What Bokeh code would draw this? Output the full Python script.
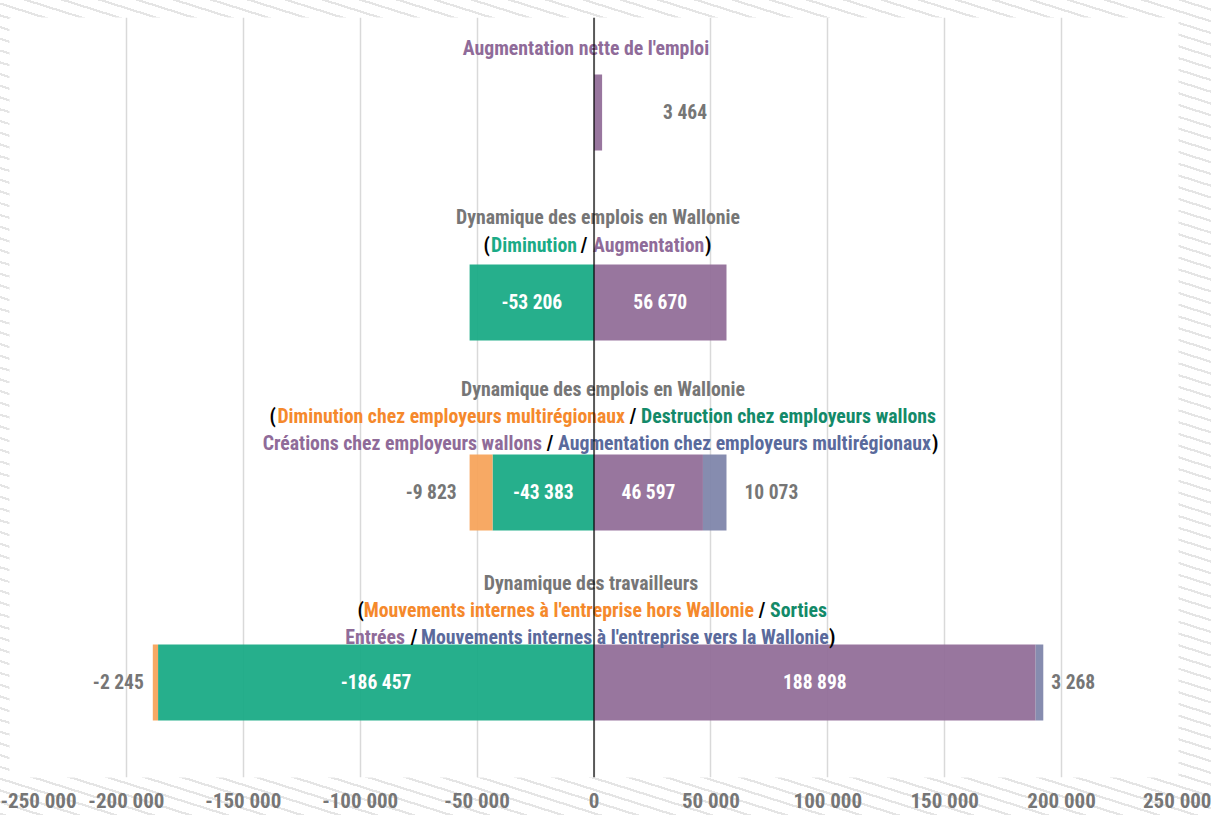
from bokeh.plotting import figure
from bokeh.models import Range1d, FixedTicker, Span, ColumnDataSource
from bokeh.core.properties import value
from bokeh.embed import file_html
from bokeh.resources import INLINE

# ---------------- data ----------------
rows = ["Augmentation nette de l'emploi",
        "Dynamique des emplois en Wallonie",
        "Dynamique des emplois en Wallonie (détail)",
        "Dynamique des travailleurs"]
neg_inner = [0, -53206, -43383, -186457]      # green
neg_outer = [0, 0, -9823, -2245]              # orange
pos_inner = [3464, 56670, 46597, 188898]      # purple
pos_outer = [0, 0, 10073, 3268]               # blue
tick_values = [-250000, -200000, -150000, -100000, -50000, 0,
               50000, 100000, 150000, 200000, 250000]
tick_labels = ["-250 000", "-200 000", "-150 000", "-100 000", "-50 000", "0",
               "50 000", "100 000", "150 000", "200 000", "250 000"]

FONT = "Roboto Condensed"
GRAY = "#767676"
C_GREEN = "#1aab86"
C_ORANGE = "#f7a45c"
C_PURPLE = "#926f99"
C_BLUE = "#7f86ab"
T_PURPLE = "#8f6b99"
T_ORANGE = "#f5892c"
T_GREEN = "#1aab86"
T_DGREEN = "#138a69"
T_BLUE = "#5a6a9c"

W, Hh = 1211, 815
FL, FT, FR, FB = 9, 17, 1178, 778   # frame edges on the canvas


def fmt(v):
    s = f"{abs(v):,}".replace(",", " ")
    return ("-" if v < 0 else "") + s


n = len(rows)
yc = [i + 0.5 for i in range(n)]

p = figure(width=W, height=Hh, output_backend="svg", toolbar_location=None,
           x_range=Range1d(-250000, 250000), y_range=Range1d(n, 0),
           y_axis_location=None, min_border_left=FL, min_border_right=W - FR,
           min_border_top=FT, min_border_bottom=Hh - FB)
p.outline_line_color = None
p.background_fill_color = "white"
p.border_fill_color = None
# striped page background visible around the plot area
p.styles = {"background-color": "#ffffff",
            "background-image": "repeating-linear-gradient(17.5deg, #e5e5e5 0px, #e5e5e5 2.2px, "
                                "#ffffff 2.2px, #ffffff 11.2px)"}

p.xgrid.ticker = FixedTicker(ticks=tick_values)
p.xgrid.grid_line_color = "#d9d9d9"
p.xgrid.grid_line_width = 1.5
p.ygrid.visible = False

ax = p.xaxis[0]
ax.level = "overlay"
ax.ticker = FixedTicker(ticks=tick_values)
ax.major_label_overrides = {t: l for t, l in zip(tick_values, tick_labels)}
ax.axis_line_color = None
ax.major_tick_line_color = None
ax.minor_tick_line_color = None
ax.major_tick_out = 0
ax.major_tick_in = 0
ax.major_label_standoff = 11
ax.major_label_text_font = FONT
ax.major_label_text_font_style = "bold"
ax.major_label_text_font_size = "21px"
ax.major_label_text_color = GRAY

# bars
H = 0.4
src = ColumnDataSource(dict(
    y=yc,
    g_l=neg_inner, g_r=[0] * n,
    o_l=[a + b for a, b in zip(neg_inner, neg_outer)], o_r=neg_inner,
    p_l=[0] * n, p_r=pos_inner,
    b_l=pos_inner, b_r=[a + b for a, b in zip(pos_inner, pos_outer)],
))
for lft, rgt, col in [("g_l", "g_r", C_GREEN), ("o_l", "o_r", C_ORANGE),
                      ("p_l", "p_r", C_PURPLE), ("b_l", "b_r", C_BLUE)]:
    p.hbar(y="y", left=lft, right=rgt, height=H, source=src, fill_color=col,
           fill_alpha=0.95, line_color=None)

# value labels
in_x, in_y, in_t = [], [], []
out_x, out_y, out_t, out_off, out_al = [], [], [], [], []
for i in range(n):
    if i == 0:
        out_x.append(pos_inner[i]); out_y.append(yc[i]); out_t.append(fmt(pos_inner[i]))
        out_off.append(61); out_al.append("left")
        continue
    in_x += [neg_inner[i] / 2, pos_inner[i] / 2]
    in_y += [yc[i], yc[i]]
    in_t += [fmt(neg_inner[i]), fmt(pos_inner[i])]
    if neg_outer[i]:
        out_x.append(neg_inner[i] + neg_outer[i]); out_y.append(yc[i]); out_t.append(fmt(neg_outer[i]))
        out_off.append(-13 if i == 2 else -9); out_al.append("right")
    if pos_outer[i]:
        out_x.append(pos_inner[i] + pos_outer[i]); out_y.append(yc[i]); out_t.append(fmt(pos_outer[i]))
        out_off.append(18 if i == 2 else 8); out_al.append("left")

p.text(x=in_x, y=in_y, text=in_t, text_color="white", text_font=value(FONT),
       text_font_style="bold", text_font_size="19.5px", text_align="center",
       text_baseline="middle")
p.text(x=out_x, y=out_y, text=out_t, x_offset=out_off, text_align=out_al,
       text_color=GRAY, text_font=value(FONT), text_font_style="bold",
       text_font_size="19.5px", text_baseline="middle")

# category captions (multi-coloured lines built from segments)
# (text, row, x offset px from zero line, y offset px from row centre, align, colour)
segs = [
    (rows[0], 0, -8, -64, "center", T_PURPLE),
    (rows[1], 1, 4, -85, "center", GRAY),
    ("(", 1, -104, -57, "right", "black"),
    ("Diminution", 1, -17, -57, "right", T_GREEN),
    ("/", 1, -10, -57, "center", "black"),
    ("Augmentation", 1, -1, -57, "left", T_PURPLE),
    (")", 1, 111, -57, "left", "black"),
    (rows[1], 2, 9, -103, "center", GRAY),
    ("(", 2, -318, -76, "right", "black"),
    ("Diminution chez employeurs multirégionaux", 2, 31, -76, "right", T_ORANGE),
    ("/", 2, 39, -76, "center", "black"),
    ("Destruction chez employeurs wallons", 2, 47, -76, "left", T_DGREEN),
    ("Créations chez employeurs wallons", 2, -52, -49, "right", T_PURPLE),
    ("/", 2, -44, -49, "center", "black"),
    ("Augmentation chez employeurs multirégionaux", 2, -36, -49, "left", T_BLUE),
    (")", 2, 338, -49, "left", "black"),
    (rows[3], 3, -3, -99, "center", GRAY),
    ("(", 3, -230, -72, "right", "black"),
    ("Mouvements internes à l'entreprise hors Wallonie", 3, 160, -72, "right", T_ORANGE),
    ("/", 3, 168, -72, "center", "black"),
    ("Sorties", 3, 176, -72, "left", T_DGREEN),
    ("Entrées", 3, -189, -45, "right", T_PURPLE),
    ("/", 3, -180, -45, "center", "black"),
    ("Mouvements internes à l'entreprise vers la Wallonie", 3, -173, -45, "left", T_BLUE),
    (")", 3, 235, -45, "left", "black"),
]
seg_src = ColumnDataSource(dict(
    x=[0] * len(segs),
    y=[yc[s[1]] for s in segs],
    text=[s[0] for s in segs],
    xo=[s[2] for s in segs],
    yo=[s[3] for s in segs],
    al=[s[4] for s in segs],
    col=[s[5] for s in segs],
))
p.text(x="x", y="y", text="text", x_offset="xo", y_offset="yo", text_align="al",
       text_color="col", source=seg_src, text_font=value(FONT), text_font_style="bold",
       text_font_size="19.8px", text_baseline="middle")

# zero line
p.add_layout(Span(location=0, dimension="height", line_color="black", line_width=1.2, level="overlay"))

open("out.html", "w").write(file_html(p, INLINE))
